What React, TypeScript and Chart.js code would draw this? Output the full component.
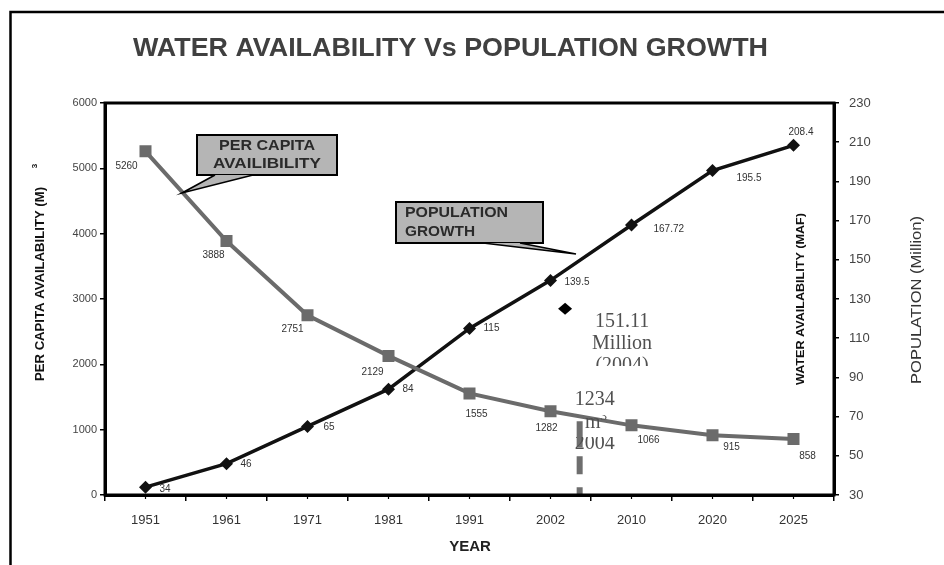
import React, { useEffect, useRef } from 'react';
import { Chart, registerables } from 'chart.js';

Chart.register(...registerables);

// ---- data ----
const years = ['1951', '1961', '1971', '1981', '1991', '2002', '2010', '2020', '2025'];
const perCapita = [5260, 3888, 2751, 2129, 1555, 1282, 1066, 915, 858];
const population = [34, 46, 65, 84, 115, 139.5, 167.72, 195.5, 208.4];
const perCapitaLabels = ['5260', '3888', '2751', '2129', '1555', '1282', '1066', '915', '858'];
const populationLabels = ['34', '46', '65', '84', '115', '139.5', '167.72', '195.5', '208.4'];
const leftAxisRange = { min: 0, max: 6000, step: 1000 };
const rightAxisRange = { min: 30, max: 230, step: 20 };
const popMarkerText = ['151.11', 'Million', '(2004)'];
const popMarkerValue = 125; // value where the diamond is drawn
const waterMarkerText = ['1234', 'm', '2004'];
const waterMarkerValue = 1130; // top of the dashed marker (left axis)

// ---- styles (not data) ----
const perCapitaLabelOffsets = [[-19, 15], [-13, 14], [-15, 14], [-16, 16], [7, 21], [-4, 17], [17, 15], [19, 12], [14, 17]];
const populationLabelOffsets = [[14, 2], [14, 1], [16, 1], [14, 0], [14, 0], [14, 2], [22, 4], [24, 8], [-5, -13]];

const SANS = '"Liberation Sans", Arial, sans-serif';
const SERIF = '"Liberation Serif", "Times New Roman", serif';

function fitText(ctx: CanvasRenderingContext2D, text: string, x: number, y: number, width: number, align: 'center' | 'left' = 'center') {
  const w = ctx.measureText(text).width;
  ctx.save();
  ctx.translate(x, y);
  ctx.scale(width / w, 1);
  ctx.textAlign = align;
  ctx.fillText(text, 0, 0);
  ctx.restore();
}

function callout(
  ctx: CanvasRenderingContext2D,
  box: [number, number, number, number],
  lines: string[],
  widths: number[],
  align: 'center' | 'left',
  base1: [number, number],
  base2: [number, number],
  tip: [number, number],
) {
  const [x, y, w, h] = box;
  ctx.save();
  ctx.fillStyle = '#b5b5b5';
  ctx.strokeStyle = '#000';
  ctx.lineWidth = 2;
  ctx.fillRect(x, y, w, h);
  ctx.strokeRect(x, y, w, h);
  // pointer
  ctx.beginPath();
  ctx.moveTo(base1[0], base1[1]);
  ctx.lineTo(tip[0], tip[1]);
  ctx.lineTo(base2[0], base2[1]);
  ctx.closePath();
  ctx.fillStyle = '#b5b5b5';
  ctx.fill();
  ctx.lineWidth = 1.6;
  ctx.beginPath();
  ctx.moveTo(base1[0], base1[1]);
  ctx.lineTo(tip[0], tip[1]);
  ctx.lineTo(base2[0], base2[1]);
  ctx.stroke();
  ctx.fillStyle = '#2a2a2a';
  ctx.font = `bold 14px ${SANS}`;
  ctx.textBaseline = 'middle';
  const lh = h / (lines.length + 0.2);
  lines.forEach((t, i) => {
    const ty = y + lh * (i + 0.6);
    if (align === 'center') fitText(ctx, t, x + w / 2, ty, widths[i], 'center');
    else fitText(ctx, t, x + 9, ty, widths[i], 'left');
  });
  ctx.restore();
}

const overlay = {
  id: 'overlay',
  beforeDraw(chart: any) {
    const ctx = chart.ctx as CanvasRenderingContext2D;
    ctx.save();
    ctx.fillStyle = '#fff';
    ctx.fillRect(0, 0, chart.width, chart.height);
    ctx.restore();
  },
  afterDatasetsDraw(chart: any) {
    const ctx = chart.ctx as CanvasRenderingContext2D;
    const xs = chart.scales.x;
    const yl = chart.scales.y;
    const yr = chart.scales.y1;
    ctx.save();
    ctx.font = `10px ${SANS}`;
    ctx.fillStyle = '#333';
    ctx.textBaseline = 'middle';
    const m0 = chart.getDatasetMeta(0);
    m0.data.forEach((p: any, i: number) => {
      const [dx, dy] = perCapitaLabelOffsets[i];
      ctx.textAlign = 'center';
      ctx.fillText(perCapitaLabels[i], p.x + dx, p.y + dy);
    });
    const m1 = chart.getDatasetMeta(1);
    m1.data.forEach((p: any, i: number) => {
      const [dx, dy] = populationLabelOffsets[i];
      ctx.textAlign = 'left';
      ctx.fillText(populationLabels[i], p.x + dx, p.y + dy);
    });

    // 2004 water marker (dashed grey bar)
    const dashX = xs.getPixelForValue(5.36);
    ctx.strokeStyle = '#6e6e6e';
    ctx.lineWidth = 6;
    ctx.setLineDash([26, 9, 18, 13]);
    ctx.beginPath();
    ctx.moveTo(dashX, yl.getPixelForValue(waterMarkerValue));
    ctx.lineTo(dashX, chart.chartArea.bottom);
    ctx.stroke();
    ctx.setLineDash([]);

    // 2004 population marker (diamond)
    const dX = xs.getPixelForValue(5.18);
    const dY = yr.getPixelForValue(popMarkerValue);
    ctx.fillStyle = '#000';
    ctx.beginPath();
    ctx.moveTo(dX, dY - 6);
    ctx.lineTo(dX + 7, dY);
    ctx.lineTo(dX, dY + 6);
    ctx.lineTo(dX - 7, dY);
    ctx.closePath();
    ctx.fill();

    // serif annotation texts
    ctx.fillStyle = '#505050';
    ctx.font = `20px ${SERIF}`;
    ctx.textAlign = 'center';
    ctx.textBaseline = 'alphabetic';
    const tx = dX + 57;
    ctx.save();
    ctx.beginPath();
    ctx.rect(tx - 60, 300, 120, 66);
    ctx.clip();
    popMarkerText.forEach((t, i) => ctx.fillText(t, tx, 327 + i * 22));
    ctx.restore();

    const wx = dashX + 15;
    ctx.fillText(waterMarkerText[0], wx, 405);
    ctx.save();
    ctx.beginPath();
    ctx.rect(wx - 40, 415, 80, 40);
    ctx.clip();
    ctx.fillText(waterMarkerText[1], wx - 2, 428);
    ctx.font = `13px ${SERIF}`;
    ctx.fillText('3', wx + 9, 420);
    ctx.restore();
    ctx.save();
    ctx.beginPath();
    ctx.rect(wx - 40, 437, 80, 20);
    ctx.clip();
    ctx.font = `20px ${SERIF}`;
    ctx.fillText(waterMarkerText[2], wx, 449);
    ctx.restore();
    ctx.restore();
  },
  afterDraw(chart: any) {
    const ctx = chart.ctx as CanvasRenderingContext2D;
    const { left, right, top, bottom } = chart.chartArea;
    const xs = chart.scales.x;
    ctx.save();
    // plot frame
    ctx.strokeStyle = '#000';
    ctx.lineWidth = 3;
    ctx.strokeRect(left, top, right - left, bottom - top);
    // minor x ticks at category centres
    ctx.lineWidth = 1.2;
    years.forEach((_, i) => {
      const px = xs.getPixelForValue(i);
      ctx.beginPath();
      ctx.moveTo(px, bottom);
      ctx.lineTo(px, bottom + 4);
      ctx.stroke();
    });
    // outer frame
    ctx.lineWidth = 2.5;
    ctx.beginPath();
    ctx.moveTo(10.5, chart.height);
    ctx.lineTo(10.5, 12);
    ctx.lineTo(chart.width, 12);
    ctx.stroke();

    // title
    ctx.fillStyle = '#404040';
    ctx.font = `bold 25px ${SANS}`;
    ctx.textBaseline = 'alphabetic';
    fitText(ctx, 'WATER AVAILABILITY Vs POPULATION GROWTH', 450.5, 56, 635);

    // x title
    ctx.fillStyle = '#222';
    ctx.font = `bold 15px ${SANS}`;
    ctx.textAlign = 'center';
    ctx.fillText('YEAR', 470, 551);

    // left axis title
    ctx.save();
    ctx.translate(44, 284);
    ctx.rotate(-Math.PI / 2);
    ctx.font = `bold 12px ${SANS}`;
    ctx.fillStyle = '#111';
    ctx.textBaseline = 'alphabetic';
    fitText(ctx, 'PER CAPITA AVAILABILITY (M)', 0, 0, 194);
    ctx.font = `bold 8px ${SANS}`;
    ctx.textAlign = 'center';
    ctx.fillText('3', 118, -7);
    ctx.restore();

    // right inner title
    ctx.save();
    ctx.translate(804, 299);
    ctx.rotate(-Math.PI / 2);
    ctx.font = `bold 11px ${SANS}`;
    ctx.fillStyle = '#111';
    fitText(ctx, 'WATER AVAILABILITY (MAF)', 0, 0, 172);
    ctx.restore();

    // right outer title
    ctx.save();
    ctx.translate(921, 300);
    ctx.rotate(-Math.PI / 2);
    ctx.font = `15px ${SANS}`;
    ctx.fillStyle = '#333';
    fitText(ctx, 'POPULATION (Million)', 0, 0, 168);
    ctx.restore();

    // callouts
    callout(ctx, [197, 135, 140, 40], ['PER CAPITA', 'AVAILIBILITY'], [96, 108], 'center', [215, 175], [253, 175], [182, 193]);
    callout(ctx, [396, 202, 147, 41], ['POPULATION', 'GROWTH'], [103, 70], 'left', [483, 243], [520, 243], [576, 254]);
    ctx.restore();
  },
};

export default function App() {
  const ref = useRef<HTMLCanvasElement>(null);
  useEffect(() => {
    if (!ref.current) return;
    const chart = new Chart(ref.current, {
      type: 'line',
      data: {
        labels: years,
        datasets: [
          {
            label: 'Per capita availability',
            data: perCapita,
            yAxisID: 'y',
            borderColor: '#6b6b6b',
            backgroundColor: '#6b6b6b',
            borderWidth: 4,
            pointStyle: 'rect',
            pointRadius: 8.5,
            pointBorderWidth: 0,
            tension: 0,
          },
          {
            label: 'Population growth',
            data: population,
            yAxisID: 'y1',
            borderColor: '#111',
            backgroundColor: '#111',
            borderWidth: 3.5,
            pointStyle: 'rectRot',
            pointRadius: 6.5,
            pointBorderWidth: 0,
            tension: 0,
          },
        ],
      },
      options: {
        responsive: false,
        animation: false,
        layout: { padding: { top: 103, left: 0, right: 0, bottom: 0 } },
        plugins: { legend: { display: false }, tooltip: { enabled: false }, title: { display: false } },
        scales: {
          x: {
            type: 'category',
            offset: true,
            grid: { offset: true, drawOnChartArea: false, tickLength: 6, color: '#000', lineWidth: 1.5 },
            border: { color: '#000', width: 3 },
            ticks: { color: '#333', font: { family: SANS, size: 13 }, padding: 12 },
            afterFit: (s: any) => { s.height = 70; },
          },
          y: {
            position: 'left',
            min: leftAxisRange.min,
            max: leftAxisRange.max,
            ticks: {
              stepSize: leftAxisRange.step,
              color: '#444',
              font: { family: SANS, size: 11 },
              padding: 3,
              callback: (v: any) => String(v),
            },
            grid: { drawOnChartArea: false, tickLength: 5, color: '#000', lineWidth: 1.5 },
            border: { color: '#000', width: 3 },
            afterFit: (s: any) => { s.width = 105; },
          },
          y1: {
            position: 'right',
            min: rightAxisRange.min,
            max: rightAxisRange.max,
            ticks: { stepSize: rightAxisRange.step, color: '#444', font: { family: SANS, size: 13 }, padding: 10 },
            grid: { drawOnChartArea: false, tickLength: 5, color: '#000', lineWidth: 1.5 },
            border: { color: '#000', width: 3 },
            afterFit: (s: any) => { s.width = 110; },
          },
        },
      },
      plugins: [overlay],
    });
    return () => chart.destroy();
  }, []);
  return (
    <div style={{ position: 'fixed', left: 0, top: 0, width: 944, height: 565, background: '#fff' }}>
      <canvas ref={ref} width={944} height={565} style={{ width: 944, height: 565, display: 'block' }} />
    </div>
  );
}
